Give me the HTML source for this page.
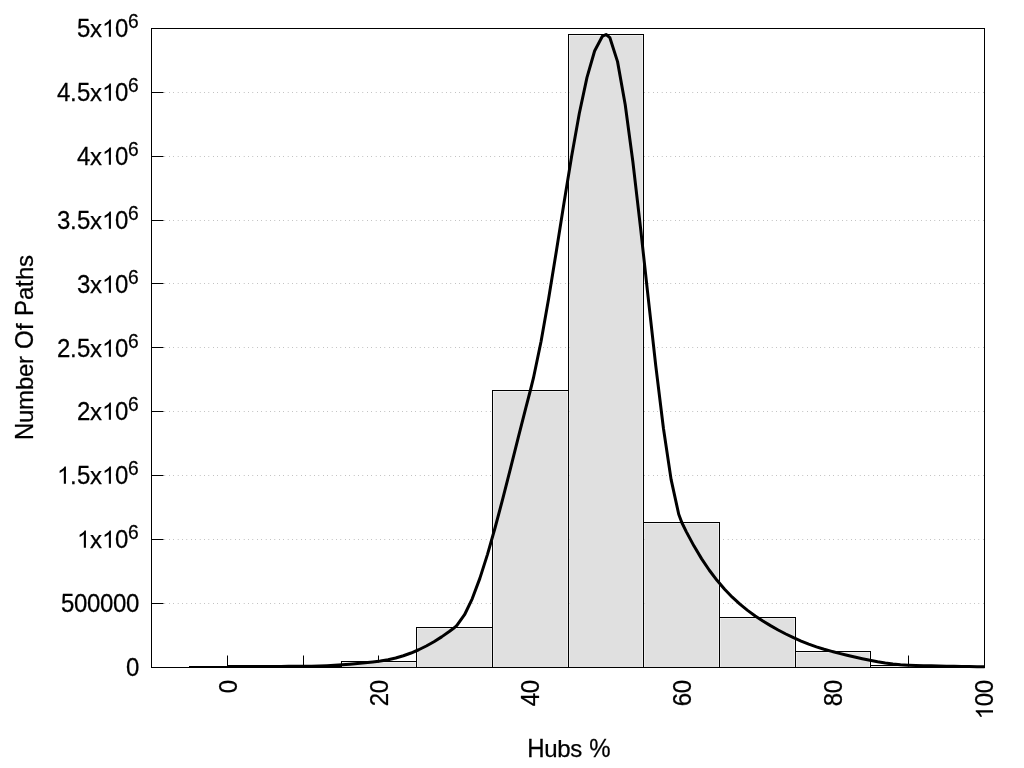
<!DOCTYPE html>
<html><head><meta charset="utf-8"><title>Hubs histogram</title>
<style>html,body{margin:0;padding:0;background:#fff;width:1024px;height:768px;overflow:hidden;font-family:"Liberation Sans",sans-serif}</style>
</head><body>
<svg width="1024" height="768" viewBox="0 0 1024 768" style="display:block;position:absolute;left:0;top:0;will-change:transform" font-family="Liberation Sans, sans-serif" font-size="24px" fill="#000"><style>text{stroke:#000;stroke-width:0.25px;stroke-linejoin:round}</style>
<rect width="1024" height="768" fill="#fff"/>
<g stroke="#000" stroke-width="0.6" stroke-dasharray="0.4,4" fill="none">
<line x1="151.5" y1="603.5" x2="984.5" y2="603.5"/>
<line x1="151.5" y1="539.5" x2="984.5" y2="539.5"/>
<line x1="151.5" y1="475.5" x2="984.5" y2="475.5"/>
<line x1="151.5" y1="411.5" x2="984.5" y2="411.5"/>
<line x1="151.5" y1="347.5" x2="984.5" y2="347.5"/>
<line x1="151.5" y1="283.5" x2="984.5" y2="283.5"/>
<line x1="151.5" y1="220.5" x2="984.5" y2="220.5"/>
<line x1="151.5" y1="156.5" x2="984.5" y2="156.5"/>
<line x1="151.5" y1="92.5" x2="984.5" y2="92.5"/>
</g>
<g stroke="#000" stroke-width="1" fill="none">
<line x1="151.5" y1="603.5" x2="163.5" y2="603.5"/>
<line x1="151.5" y1="539.5" x2="163.5" y2="539.5"/>
<line x1="151.5" y1="475.5" x2="163.5" y2="475.5"/>
<line x1="151.5" y1="411.5" x2="163.5" y2="411.5"/>
<line x1="151.5" y1="347.5" x2="163.5" y2="347.5"/>
<line x1="151.5" y1="283.5" x2="163.5" y2="283.5"/>
<line x1="151.5" y1="220.5" x2="163.5" y2="220.5"/>
<line x1="151.5" y1="156.5" x2="163.5" y2="156.5"/>
<line x1="151.5" y1="92.5" x2="163.5" y2="92.5"/>
<line x1="227.5" y1="667.5" x2="227.5" y2="655.5"/>
<line x1="303.5" y1="667.5" x2="303.5" y2="655.5"/>
<line x1="378.5" y1="667.5" x2="378.5" y2="655.5"/>
<line x1="454.5" y1="667.5" x2="454.5" y2="655.5"/>
<line x1="530.5" y1="667.5" x2="530.5" y2="655.5"/>
<line x1="606.5" y1="667.5" x2="606.5" y2="655.5"/>
<line x1="681.5" y1="667.5" x2="681.5" y2="655.5"/>
<line x1="757.5" y1="667.5" x2="757.5" y2="655.5"/>
<line x1="833.5" y1="667.5" x2="833.5" y2="655.5"/>
<line x1="908.5" y1="667.5" x2="908.5" y2="655.5"/>
</g>
<rect x="189.5" y="666.5" width="76.0" height="1.0" fill="none" stroke="#000" stroke-width="1"/>
<rect x="265.5" y="666.5" width="76.0" height="1.0" fill="none" stroke="#000" stroke-width="1"/>
<rect x="342.4" y="662.4" width="73.2" height="5.1" fill="#e0e0e0"/>
<rect x="341.5" y="661.5" width="75.0" height="6.0" fill="none" stroke="#000" stroke-width="1"/>
<rect x="417.4" y="628.4" width="74.2" height="39.1" fill="#e0e0e0"/>
<rect x="416.5" y="627.5" width="76.0" height="40.0" fill="none" stroke="#000" stroke-width="1"/>
<rect x="493.4" y="391.4" width="74.2" height="276.1" fill="#e0e0e0"/>
<rect x="492.5" y="390.5" width="76.0" height="277.0" fill="none" stroke="#000" stroke-width="1"/>
<rect x="569.4" y="35.4" width="73.2" height="632.1" fill="#e0e0e0"/>
<rect x="568.5" y="34.5" width="75.0" height="633.0" fill="none" stroke="#000" stroke-width="1"/>
<rect x="644.4" y="523.4" width="74.2" height="144.1" fill="#e0e0e0"/>
<rect x="643.5" y="522.5" width="76.0" height="145.0" fill="none" stroke="#000" stroke-width="1"/>
<rect x="720.4" y="618.4" width="74.2" height="49.1" fill="#e0e0e0"/>
<rect x="719.5" y="617.5" width="76.0" height="50.0" fill="none" stroke="#000" stroke-width="1"/>
<rect x="796.4" y="652.4" width="73.2" height="15.1" fill="#e0e0e0"/>
<rect x="795.5" y="651.5" width="75.0" height="16.0" fill="none" stroke="#000" stroke-width="1"/>
<rect x="871.4" y="666.4" width="74.2" height="1.1" fill="#e0e0e0"/>
<rect x="870.5" y="665.5" width="76.0" height="2.0" fill="none" stroke="#000" stroke-width="1"/>
<rect x="946.5" y="666.5" width="38.0" height="1.0" fill="none" stroke="#000" stroke-width="1"/>
<rect x="151.5" y="28.5" width="833.0" height="639.0" fill="none" stroke="#000" stroke-width="1"/>
<polyline points="227.43,666.50 235.08,666.48 242.73,666.47 250.37,666.45 258.02,666.44 265.67,666.42 273.32,666.41 280.97,666.39 288.62,666.36 296.27,666.33 303.15,666.30 303.92,666.30 311.57,666.19 319.22,665.97 326.87,665.65 334.52,665.24 342.17,664.73 349.81,664.13 357.46,663.46 365.11,662.71 372.76,661.90 378.88,661.20 380.41,661.01 388.06,659.77 395.71,658.02 403.36,655.77 411.01,653.02 418.66,649.75 426.31,645.98 433.96,641.69 441.61,636.88 449.25,631.54 454.61,627.50 456.90,625.43 464.55,614.73 472.20,598.78 479.85,578.39 487.50,554.37 495.15,527.53 502.80,498.66 510.45,468.59 518.10,438.10 525.75,408.02 530.34,390.50 533.40,378.22 541.05,341.49 548.69,298.29 556.34,251.25 563.99,203.01 571.64,156.23 579.29,113.53 586.94,77.58 594.59,51.00 602.24,36.44 606.06,34.50 609.89,37.72 617.54,61.62 625.19,104.56 632.84,161.50 640.49,227.40 648.13,297.18 655.78,365.81 663.43,428.24 671.08,479.40 678.73,514.26 681.79,522.50 686.38,531.84 694.03,546.10 701.68,558.86 709.33,570.23 716.98,580.32 724.63,589.27 732.28,597.18 739.92,604.19 747.57,610.40 755.22,615.95 757.52,617.50 762.87,620.98 770.52,625.65 778.17,629.99 785.82,633.99 793.47,637.67 801.12,641.03 808.77,644.08 816.42,646.82 824.07,649.26 831.72,651.40 833.25,651.80 839.36,653.35 847.01,655.24 854.66,657.05 862.31,658.76 869.96,660.33 877.61,661.74 885.26,662.96 892.91,663.95 900.56,664.70 908.21,665.17 908.97,665.20 915.86,665.44 923.51,665.66 931.16,665.85 938.80,666.01 946.45,666.15 954.10,666.28 961.75,666.40 969.40,666.52 977.05,666.65 984.70,666.80" fill="none" stroke="#000" stroke-width="3" stroke-linejoin="round" stroke-linecap="butt"/>
<g role="img" aria-label="0" transform="translate(139.00,675.80)"><text transform="translate(0,0.00) scale(1,1.045)" x="-13.00" y="0">0</text></g>
<g role="img" aria-label="500000" transform="translate(139.00,611.80)"><text transform="translate(0,0.00) scale(1,1.045)" x="-78.00 -65.00 -52.00 -39.00 -26.00 -13.00" y="0">500000</text></g>
<g role="img" aria-label="1x10^6" transform="translate(139.00,547.80)"><path transform="translate(-62.00,0.00) scale(0.011719,-0.011719)" d="M763 0H583V1147Q518 1085 412.5 1023Q307 961 223 930V1104Q374 1175 487 1276Q600 1377 647 1472H763Z"/><path transform="translate(-37.00,0.00) scale(0.011719,-0.011719)" d="M763 0H583V1147Q518 1085 412.5 1023Q307 961 223 930V1104Q374 1175 487 1276Q600 1377 647 1472H763Z"/><text transform="translate(0,0.00) scale(1,1.0)" x="-49.00" y="0">x</text><text transform="translate(0,0.00) scale(1,1.045)" x="-24.00" y="0">0</text><text transform="translate(0,-8.80) scale(1,1.045)" x="-11.00" y="0" font-size="19.2px">6</text></g>
<g role="img" aria-label="1.5x10^6" transform="translate(139.00,483.80)"><path transform="translate(-82.00,0.00) scale(0.011719,-0.011719)" d="M763 0H583V1147Q518 1085 412.5 1023Q307 961 223 930V1104Q374 1175 487 1276Q600 1377 647 1472H763Z"/><path transform="translate(-37.00,0.00) scale(0.011719,-0.011719)" d="M763 0H583V1147Q518 1085 412.5 1023Q307 961 223 930V1104Q374 1175 487 1276Q600 1377 647 1472H763Z"/><text transform="translate(0,0.00) scale(1,1.0)" x="-69.00 -49.00" y="0">.x</text><text transform="translate(0,0.00) scale(1,1.045)" x="-62.00 -24.00" y="0">50</text><text transform="translate(0,-8.80) scale(1,1.045)" x="-11.00" y="0" font-size="19.2px">6</text></g>
<g role="img" aria-label="2x10^6" transform="translate(139.00,419.80)"><path transform="translate(-37.00,0.00) scale(0.011719,-0.011719)" d="M763 0H583V1147Q518 1085 412.5 1023Q307 961 223 930V1104Q374 1175 487 1276Q600 1377 647 1472H763Z"/><text transform="translate(0,0.00) scale(1,1.045)" x="-62.00 -24.00" y="0">20</text><text transform="translate(0,0.00) scale(1,1.0)" x="-49.00" y="0">x</text><text transform="translate(0,-8.80) scale(1,1.045)" x="-11.00" y="0" font-size="19.2px">6</text></g>
<g role="img" aria-label="2.5x10^6" transform="translate(139.00,356.80)"><path transform="translate(-37.00,0.00) scale(0.011719,-0.011719)" d="M763 0H583V1147Q518 1085 412.5 1023Q307 961 223 930V1104Q374 1175 487 1276Q600 1377 647 1472H763Z"/><text transform="translate(0,0.00) scale(1,1.045)" x="-82.00 -62.00 -24.00" y="0">250</text><text transform="translate(0,0.00) scale(1,1.0)" x="-69.00 -49.00" y="0">.x</text><text transform="translate(0,-8.80) scale(1,1.045)" x="-11.00" y="0" font-size="19.2px">6</text></g>
<g role="img" aria-label="3x10^6" transform="translate(139.00,292.80)"><path transform="translate(-37.00,0.00) scale(0.011719,-0.011719)" d="M763 0H583V1147Q518 1085 412.5 1023Q307 961 223 930V1104Q374 1175 487 1276Q600 1377 647 1472H763Z"/><text transform="translate(0,0.00) scale(1,1.045)" x="-62.00 -24.00" y="0">30</text><text transform="translate(0,0.00) scale(1,1.0)" x="-49.00" y="0">x</text><text transform="translate(0,-8.80) scale(1,1.045)" x="-11.00" y="0" font-size="19.2px">6</text></g>
<g role="img" aria-label="3.5x10^6" transform="translate(139.00,228.80)"><path transform="translate(-37.00,0.00) scale(0.011719,-0.011719)" d="M763 0H583V1147Q518 1085 412.5 1023Q307 961 223 930V1104Q374 1175 487 1276Q600 1377 647 1472H763Z"/><text transform="translate(0,0.00) scale(1,1.045)" x="-82.00 -62.00 -24.00" y="0">350</text><text transform="translate(0,0.00) scale(1,1.0)" x="-69.00 -49.00" y="0">.x</text><text transform="translate(0,-8.80) scale(1,1.045)" x="-11.00" y="0" font-size="19.2px">6</text></g>
<g role="img" aria-label="4x10^6" transform="translate(139.00,164.80)"><path transform="translate(-37.00,0.00) scale(0.011719,-0.011719)" d="M763 0H583V1147Q518 1085 412.5 1023Q307 961 223 930V1104Q374 1175 487 1276Q600 1377 647 1472H763Z"/><text transform="translate(0,0.00) scale(1,1.045)" x="-62.00 -24.00" y="0">40</text><text transform="translate(0,0.00) scale(1,1.0)" x="-49.00" y="0">x</text><text transform="translate(0,-8.80) scale(1,1.045)" x="-11.00" y="0" font-size="19.2px">6</text></g>
<g role="img" aria-label="4.5x10^6" transform="translate(139.00,100.80)"><path transform="translate(-37.00,0.00) scale(0.011719,-0.011719)" d="M763 0H583V1147Q518 1085 412.5 1023Q307 961 223 930V1104Q374 1175 487 1276Q600 1377 647 1472H763Z"/><text transform="translate(0,0.00) scale(1,1.045)" x="-82.00 -62.00 -24.00" y="0">450</text><text transform="translate(0,0.00) scale(1,1.0)" x="-69.00 -49.00" y="0">.x</text><text transform="translate(0,-8.80) scale(1,1.045)" x="-11.00" y="0" font-size="19.2px">6</text></g>
<g role="img" aria-label="5x10^6" transform="translate(139.00,36.80)"><path transform="translate(-37.00,0.00) scale(0.011719,-0.011719)" d="M763 0H583V1147Q518 1085 412.5 1023Q307 961 223 930V1104Q374 1175 487 1276Q600 1377 647 1472H763Z"/><text transform="translate(0,0.00) scale(1,1.045)" x="-62.00 -24.00" y="0">50</text><text transform="translate(0,0.00) scale(1,1.0)" x="-49.00" y="0">x</text><text transform="translate(0,-8.80) scale(1,1.045)" x="-11.00" y="0" font-size="19.2px">6</text></g>
<g role="img" aria-label="0" transform="translate(237.00,680.30) rotate(-90)"><text transform="translate(0,0.00) scale(1,1.045)" x="-13.00" y="0">0</text></g>
<g role="img" aria-label="20" transform="translate(388.00,680.30) rotate(-90)"><text transform="translate(0,0.00) scale(1,1.045)" x="-26.00 -13.00" y="0">20</text></g>
<g role="img" aria-label="40" transform="translate(539.00,680.30) rotate(-90)"><text transform="translate(0,0.00) scale(1,1.045)" x="-26.00 -13.00" y="0">40</text></g>
<g role="img" aria-label="60" transform="translate(691.00,680.30) rotate(-90)"><text transform="translate(0,0.00) scale(1,1.045)" x="-26.00 -13.00" y="0">60</text></g>
<g role="img" aria-label="80" transform="translate(842.00,680.30) rotate(-90)"><text transform="translate(0,0.00) scale(1,1.045)" x="-26.00 -13.00" y="0">80</text></g>
<g role="img" aria-label="100" transform="translate(993.00,680.30) rotate(-90)"><path transform="translate(-39.00,0.00) scale(0.011719,-0.011719)" d="M763 0H583V1147Q518 1085 412.5 1023Q307 961 223 930V1104Q374 1175 487 1276Q600 1377 647 1472H763Z"/><text transform="translate(0,0.00) scale(1,1.045)" x="-26.00 -13.00" y="0">00</text></g>
<g role="img" aria-label="Hubs %" transform="translate(568.80,756.70)"><text transform="translate(0,0.00) scale(1,1.045)" x="-41.50 20.50" y="0">H%</text><text transform="translate(0,0.00) scale(1,1.0)" x="-24.50 -11.50 1.50" y="0">ubs</text></g>
<g role="img" aria-label="Number Of Paths" transform="translate(32.75,347.45) rotate(-90)"><text transform="translate(0,0.00) scale(1,1.045)" x="-92.50 -1.50 31.50" y="0">NOP</text><text transform="translate(0,0.00) scale(1,1.0)" x="-75.50 -62.50 -42.50 -29.50 -16.50 17.50 47.50 67.50 80.50" y="0">umberfahs</text><text transform="translate(0,0.00) scale(1,1.06)" x="60.50" y="0">t</text></g>
</svg>
</body></html>
